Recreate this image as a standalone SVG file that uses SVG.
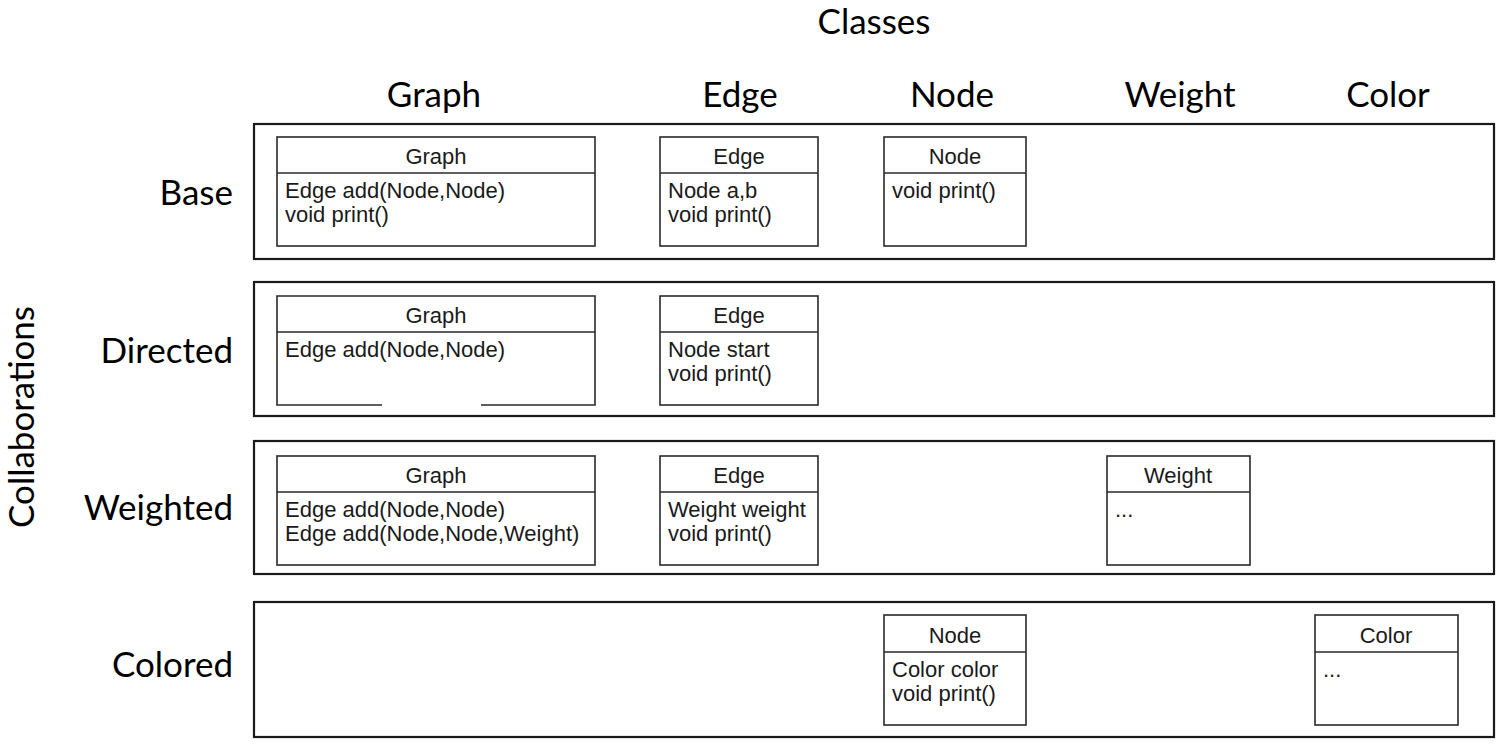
<svg xmlns="http://www.w3.org/2000/svg" width="1501" height="746" viewBox="0 0 1501 746">
<style>
.bg{fill:#ffffff}
.lane{fill:#ffffff;stroke:#1a1a1a;stroke-width:2.2}
.cls{fill:#ffffff;stroke:#2a2a2a;stroke-width:1.6}
.div{stroke:#2a2a2a;stroke-width:1.6;fill:none}
.t{font-family:"Liberation Sans",Arial,sans-serif;font-size:22px;fill:#1a1a1a}
.h{text-anchor:middle}
.big{font-family:Lato,"Open Sans",sans-serif;font-size:35px;fill:#000000}
.c{text-anchor:middle}
.r{text-anchor:end}
</style>
<rect class="bg" x="0" y="0" width="1501" height="746"/>

<g id="axis-labels">
<text class="big c" x="874" y="34">Classes</text>
<text class="big c" x="434" y="107">Graph</text>
<text class="big c" x="740" y="107">Edge</text>
<text class="big c" x="952" y="107">Node</text>
<text class="big c" x="1180" y="107">Weight</text>
<text class="big c" x="1388" y="107">Color</text>
<text class="big r" x="233" y="205">Base</text>
<text class="big r" x="233" y="363">Directed</text>
<text class="big r" x="233" y="520">Weighted</text>
<text class="big r" x="233" y="677">Colored</text>
<text class="big c" transform="translate(34,417) rotate(-90)">Collaborations</text>
</g>

<g id="lanes">
<rect id="lane-base" class="lane" x="254" y="124" width="1240" height="135"/>
<rect id="lane-directed" class="lane" x="254" y="282" width="1240" height="134"/>
<rect id="lane-weighted" class="lane" x="254" y="441" width="1240" height="133"/>
<rect id="lane-colored" class="lane" x="254" y="602" width="1240" height="135"/>
</g>

<g id="base-graph">
<rect class="cls" x="277" y="137" width="318" height="109"/>
<line class="div" x1="277" y1="173" x2="595" y2="173"/>
<text class="t h" x="436" y="164">Graph</text>
<text class="t" x="285" y="198">Edge add(Node,Node)</text>
<text class="t" x="285" y="222">void print()</text>
</g>
<g id="base-edge">
<rect class="cls" x="660" y="137" width="158" height="109"/>
<line class="div" x1="660" y1="173" x2="818" y2="173"/>
<text class="t h" x="739" y="164">Edge</text>
<text class="t" x="668" y="198">Node a,b</text>
<text class="t" x="668" y="222">void print()</text>
</g>
<g id="base-node">
<rect class="cls" x="884" y="137" width="142" height="109"/>
<line class="div" x1="884" y1="173" x2="1026" y2="173"/>
<text class="t h" x="955" y="164">Node</text>
<text class="t" x="892" y="198">void print()</text>
</g>

<g id="directed-graph">
<path class="div" d="M382,405 H277 V296 H595 V405 H481"/>
<line class="div" x1="277" y1="332" x2="595" y2="332"/>
<text class="t h" x="436" y="323">Graph</text>
<text class="t" x="285" y="357">Edge add(Node,Node)</text>
</g>
<g id="directed-edge">
<rect class="cls" x="660" y="296" width="158" height="109"/>
<line class="div" x1="660" y1="332" x2="818" y2="332"/>
<text class="t h" x="739" y="323">Edge</text>
<text class="t" x="668" y="357">Node start</text>
<text class="t" x="668" y="381">void print()</text>
</g>

<g id="weighted-graph">
<rect class="cls" x="277" y="456" width="318" height="109"/>
<line class="div" x1="277" y1="492" x2="595" y2="492"/>
<text class="t h" x="436" y="483">Graph</text>
<text class="t" x="285" y="517">Edge add(Node,Node)</text>
<text class="t" x="285" y="541">Edge add(Node,Node,Weight)</text>
</g>
<g id="weighted-edge">
<rect class="cls" x="660" y="456" width="158" height="109"/>
<line class="div" x1="660" y1="492" x2="818" y2="492"/>
<text class="t h" x="739" y="483">Edge</text>
<text class="t" x="668" y="517">Weight weight</text>
<text class="t" x="668" y="541">void print()</text>
</g>
<g id="weighted-weight">
<rect class="cls" x="1107" y="456" width="143" height="109"/>
<line class="div" x1="1107" y1="492" x2="1250" y2="492"/>
<text class="t h" x="1178" y="483">Weight</text>
<text class="t" x="1115" y="517">...</text>
</g>

<g id="colored-node">
<rect class="cls" x="884" y="615" width="142" height="110"/>
<line class="div" x1="884" y1="652" x2="1026" y2="652"/>
<text class="t h" x="955" y="643">Node</text>
<text class="t" x="892" y="677">Color color</text>
<text class="t" x="892" y="701">void print()</text>
</g>
<g id="colored-color">
<rect class="cls" x="1315" y="615" width="143" height="110"/>
<line class="div" x1="1315" y1="652" x2="1458" y2="652"/>
<text class="t h" x="1386" y="643">Color</text>
<text class="t" x="1323" y="677">...</text>
</g>

<g id="connectors"></g>
</svg>
